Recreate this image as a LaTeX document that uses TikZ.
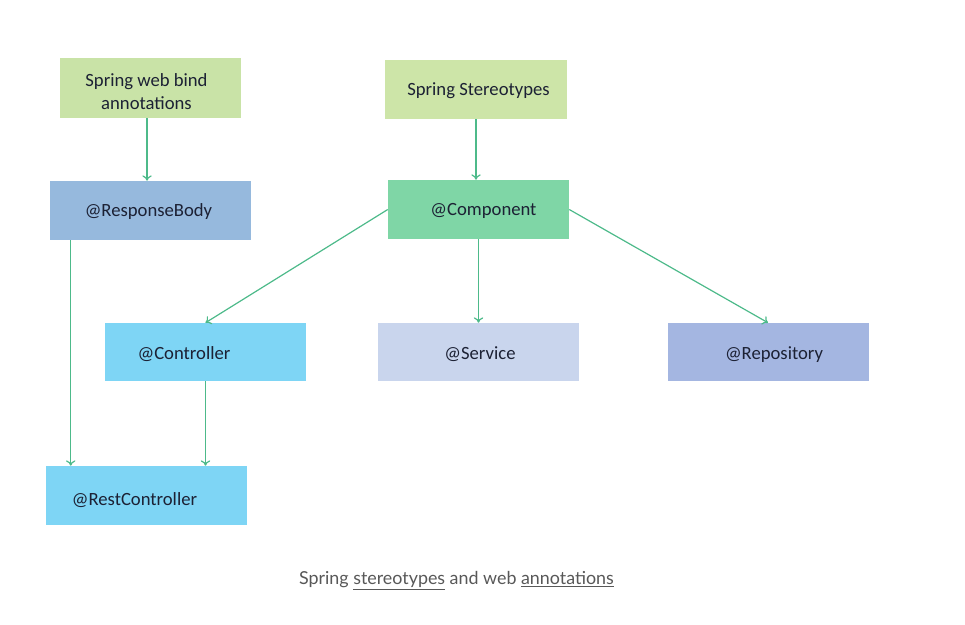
\documentclass[tikz,border=0pt]{standalone}
\usepackage{fontspec}
\setmainfont{Carlito}
\newfontfamily\capfont{Lato}
\usetikzlibrary{arrows.meta}

\definecolor{bindgreen}{RGB}{201,227,167}
\definecolor{stereogreen}{RGB}{205,229,168}
\definecolor{bodyblue}{RGB}{150,185,221}
\definecolor{compgreen}{RGB}{127,214,166}
\definecolor{ctrlcyan}{RGB}{126,213,245}
\definecolor{servlilac}{RGB}{201,213,237}
\definecolor{repoblue}{RGB}{164,182,225}
\definecolor{linkgreen}{RGB}{77,186,138}
\definecolor{boxtext}{RGB}{28,33,52}
\definecolor{capgray}{RGB}{88,88,88}

\tikzset{
  annbox/.style={draw=none, inner sep=0pt, minimum width=150.75pt, minimum height=44.25pt},
  annlabel/.style={text=boxtext, font=\fontsize{14}{17}\selectfont, align=center, inner sep=0pt},
  link/.style={draw=linkgreen, line width=0.9pt, -{To[length=4pt,width=7pt]}}
}

\begin{document}
\begin{tikzpicture}[x=0.75pt,y=0.75pt,yscale=-1,xscale=1]
\useasboundingbox (0,0) rectangle (965,625);

% boxes
\node[annbox, fill=bindgreen, minimum width=135.75pt, minimum height=45pt] (bind) at (150.5,88) {};
\node[annbox, fill=stereogreen, minimum width=136.5pt] (stereo) at (476,89.5) {};
\node[annbox, fill=bodyblue] (body) at (150.5,210.5) {};
\node[annbox, fill=compgreen, minimum width=135.75pt] (comp) at (478.5,209.5) {};
\node[annbox, fill=ctrlcyan, minimum height=43.5pt] (ctrl) at (205.5,352) {};
\node[annbox, fill=servlilac, minimum height=43.5pt] (serv) at (478,352) {};
\node[annbox, fill=repoblue, minimum height=43.5pt] (repo) at (768,352) {};
\node[annbox, fill=ctrlcyan] (rest) at (146,495.5) {};

% box texts
\node[annlabel] (bind-t) at (146.5,91.5) {Spring web bind\\annotations};
\node[annlabel] (stereo-t) at (478.5,91) {Spring Stereotypes};
\node[annlabel] (body-t) at (148.5,212) {@ResponseBody};
\node[annlabel] (comp-t) at (483.5,211) {@Component};
\node[annlabel] (ctrl-t) at (184,354) {@Controller};
\node[annlabel] (serv-t) at (480,354) {@Service};
\node[annlabel] (repo-t) at (774,355) {@Repository};
\node[annlabel] (rest-t) at (134.5,500) {@RestController};

% connectors
\coordinate (bind-out) at ([xshift=-2.6pt]bind.south);
\coordinate (body-out) at ([xshift=15.75pt]body.south west);
\draw[link] (bind-out) -- (bind-out |- body.north);
\draw[link] (stereo.south) -- (stereo.south |- comp.north);
\draw[link] (comp.west) -- (ctrl.north);
\draw[link] (comp.south) -- (comp.south |- serv.north);
\draw[link] (comp.east) -- (repo.north);
\draw[link] (body-out) -- (body-out |- rest.north);
\draw[link] (ctrl.south) -- (ctrl.south |- rest.north);

% caption
\node[text=capgray, font=\capfont\fontsize{13.4}{16}\selectfont, inner sep=0pt] (caption) at (456.5,581)
  {Spring \underline{stereotypes} and web \underline{annotations}};

\end{tikzpicture}
\end{document}
